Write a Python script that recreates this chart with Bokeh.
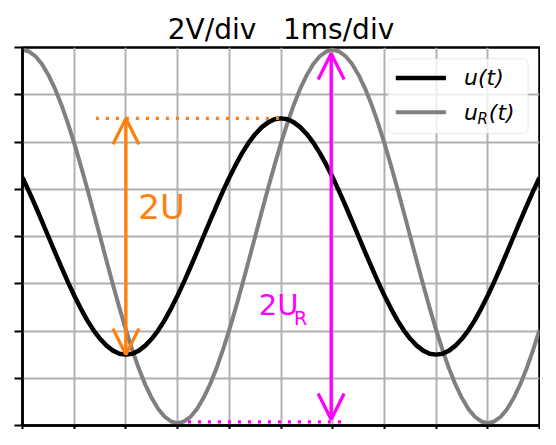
from bokeh.plotting import figure
from bokeh.models import (Arrow, OpenHead, Label, BoxAnnotation, FixedTicker,
                          CustomJSTickFormatter, Range1d)
from bokeh.embed import file_html
from bokeh.resources import INLINE

# ---------------- data ----------------
t_ms = [0.0, 0.125, 0.25, 0.375, 0.5, 0.625, 0.75, 0.875, 1.0, 1.125, 1.25,
        1.375, 1.5, 1.625, 1.75, 1.875, 2.0, 2.125, 2.25, 2.375, 2.5, 2.625,
        2.75, 2.875, 3.0, 3.125, 3.25, 3.375, 3.5, 3.625, 3.75, 3.875, 4.0,
        4.125, 4.25, 4.375, 4.5, 4.625, 4.75, 4.875, 5.0, 5.125, 5.25, 5.375,
        5.5, 5.625, 5.75, 5.875, 6.0, 6.125, 6.25, 6.375, 6.5, 6.625, 6.75,
        6.875, 7.0, 7.125, 7.25, 7.375, 7.5, 7.625, 7.75, 7.875, 8.0, 8.125,
        8.25, 8.375, 8.5, 8.625, 8.75, 8.875, 9.0, 9.125, 9.25, 9.375, 9.5,
        9.625, 9.75, 9.875, 10.0]
u_V = [2.5, 1.91, 1.29, 0.65, 0.0, -0.65, -1.29, -1.91, -2.5, -3.04, -3.54,
       -3.97, -4.33, -4.62, -4.83, -4.96, -5.0,
       -4.96, -4.83, -4.62, -4.33, -3.97, -3.54, -3.04, -2.5, -1.91, -1.29,
       -0.65, 0.0, 0.65, 1.29, 1.91, 2.5,
       3.04, 3.54, 3.97, 4.33, 4.62, 4.83, 4.96, 5.0, 4.96, 4.83, 4.62, 4.33,
       3.97, 3.54, 3.04, 2.5,
       1.91, 1.29, 0.65, 0.0, -0.65, -1.29, -1.91, -2.5, -3.04, -3.54, -3.97,
       -4.33, -4.62, -4.83, -4.96, -5.0,
       -4.96, -4.83, -4.62, -4.33, -3.97, -3.54, -3.04, -2.5, -1.91, -1.29,
       -0.65, 0.0, 0.65, 1.29, 1.91, 2.5]
uR_V = [7.9, 7.83, 7.63, 7.3, 6.84, 6.27, 5.59, 4.81, 3.95, 3.02, 2.04, 1.03,
        0.0,
        -1.03, -2.04, -3.02, -3.95, -4.81, -5.59, -6.27, -6.84, -7.3, -7.63,
        -7.83, -7.9,
        -7.83, -7.63, -7.3, -6.84, -6.27, -5.59, -4.81, -3.95, -3.02, -2.04,
        -1.03, 0.0,
        1.03, 2.04, 3.02, 3.95, 4.81, 5.59, 6.27, 6.84, 7.3, 7.63, 7.83, 7.9,
        7.83, 7.63, 7.3, 6.84, 6.27, 5.59, 4.81, 3.95, 3.02, 2.04, 1.03, 0.0,
        -1.03, -2.04, -3.02, -3.95, -4.81, -5.59, -6.27, -6.84, -7.3, -7.63,
        -7.83, -7.9,
        -7.83, -7.63, -7.3, -6.84, -6.27, -5.59, -4.81, -3.95]

x_ticks = [0, 1, 2, 3, 4, 5, 6, 7, 8, 9, 10]
y_ticks = [-8, -6, -4, -2, 0, 2, 4, 6, 8]

title_text = "2V/div\u00a0\u00a0\u00a01ms/div"
legend_labels = ["u(t)", "u", "R", "(t)"]

# annotation values (2U and 2U_R)
u_dot_x = [1.42, 5.0]
u_dot_y = [5.0, 5.0]
u_arrow_t = 2.0
u_arrow_V = [5.0, -5.0]
uR_dot_x = [3.2, 6.27]
uR_dot_y = [-7.85, -7.85]
uR_arrow_t = 5.97
uR_arrow_V = [7.75, -7.75]

ORANGE = "#ff7f0e"
MAGENTA = "#ff00ff"
GRAY = "#808080"
FONT = "DejaVu Sans"

# ---------------- figure ----------------
p = figure(width=540, height=429, output_backend="svg", toolbar_location=None,
           x_range=Range1d(0, 10), y_range=Range1d(-8, 8),
           min_border_left=22, min_border_right=1, min_border_top=47,
           min_border_bottom=2)
p.background_fill_color = "white"
p.border_fill_color = "white"
p.outline_line_color = "black"
p.outline_line_width = 2.5

p.title.text = title_text
p.title.text_font = FONT
p.title.text_font_size = "28px"
p.title.text_font_style = "normal"
p.title.text_color = "black"
p.title.align = "center"
p.title.standoff = 4

empty = CustomJSTickFormatter(code="return ''")
for ax, ticks in ((p.xaxis[0], x_ticks), (p.yaxis[0], y_ticks)):
    ax.ticker = FixedTicker(ticks=ticks)
    ax.formatter = empty
    ax.axis_line_color = "black"
    ax.axis_line_width = 2.5
    ax.major_tick_line_color = "black"
    ax.major_tick_line_width = 2
    ax.major_tick_in = 0
    ax.minor_tick_line_color = None
    ax.major_label_standoff = 0
p.yaxis.major_tick_out = 8
p.xaxis.major_tick_out = 4

p.xgrid.ticker = FixedTicker(ticks=x_ticks)
p.ygrid.ticker = FixedTicker(ticks=y_ticks)
for g in (p.xgrid[0], p.ygrid[0]):
    g.grid_line_color = "#b0b0b0"
    g.grid_line_width = 2

# curves
p.line(t_ms, uR_V, line_color=GRAY, line_width=4, line_join="round")
p.line(t_ms, u_V, line_color="black", line_width=4.5, line_join="round")

# dotted guides
p.line(u_dot_x, u_dot_y, line_color=ORANGE, line_width=3.3, line_dash="3 7")
p.line(uR_dot_x, uR_dot_y, line_color=MAGENTA, line_width=3.3, line_dash="3 7")

# double arrows
p.add_layout(Arrow(start=OpenHead(size=26, line_color=ORANGE, line_width=3.3),
                   end=OpenHead(size=26, line_color=ORANGE, line_width=3.3),
                   x_start=u_arrow_t, y_start=u_arrow_V[0],
                   x_end=u_arrow_t, y_end=u_arrow_V[1],
                   line_color=ORANGE, line_width=3.3))
p.add_layout(Arrow(start=OpenHead(size=26, line_color=MAGENTA, line_width=3.3),
                   end=OpenHead(size=26, line_color=MAGENTA, line_width=3.3),
                   x_start=uR_arrow_t, y_start=uR_arrow_V[0],
                   x_end=uR_arrow_t, y_end=uR_arrow_V[1],
                   line_color=MAGENTA, line_width=3.3))

# hand-written style labels
p.add_layout(Label(x=2.24, y=1.23, text="2U", text_color=ORANGE,
                   text_font=FONT, text_font_size="34px",
                   text_baseline="alphabetic"))
p.add_layout(Label(x=4.57, y=-2.91, text="2U", text_color=MAGENTA,
                   text_font=FONT, text_font_size="29px",
                   text_baseline="alphabetic"))
p.add_layout(Label(x=5.25, y=-3.44, text="R", text_color=MAGENTA,
                   text_font=FONT, text_font_size="19px",
                   text_baseline="alphabetic"))

# legend (manual, to get the subscript)
p.add_layout(BoxAnnotation(left=7.07, right=9.78, bottom=4.36, top=7.52,
                           fill_color="white", fill_alpha=0.8,
                           line_color="#cccccc", line_width=1.5,
                           border_radius=5))
p.line([7.22, 8.19], [6.71, 6.71], line_color="black", line_width=4.5,
       level="overlay")
p.line([7.22, 8.19], [5.26, 5.26], line_color=GRAY, line_width=4,
       level="overlay")
p.add_layout(Label(x=8.54, y=6.71, text=legend_labels[0], text_font=FONT,
                   text_font_size="22px", text_font_style="italic",
                   text_color="black", text_baseline="middle"))
p.add_layout(Label(x=8.54, y=5.26, text=legend_labels[1], text_font=FONT,
                   text_font_size="22px", text_font_style="italic",
                   text_color="black", text_baseline="middle"))
p.add_layout(Label(x=8.80, y=4.98, text=legend_labels[2], text_font=FONT,
                   text_font_size="15px", text_font_style="italic",
                   text_color="black", text_baseline="middle"))
p.add_layout(Label(x=9.02, y=5.26, text=legend_labels[3], text_font=FONT,
                   text_font_size="22px", text_font_style="italic",
                   text_color="black", text_baseline="middle"))

open("out.html", "w").write(file_html(p, INLINE))
